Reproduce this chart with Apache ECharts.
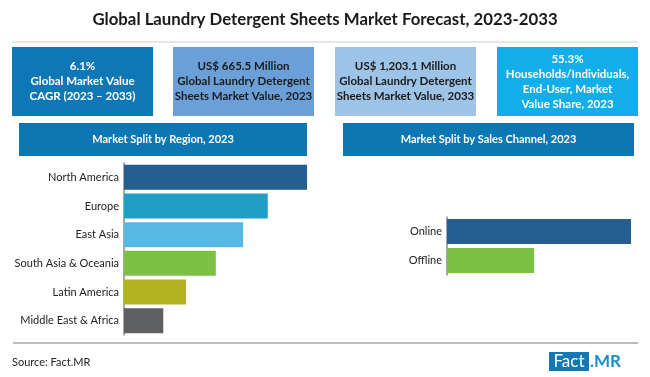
<!DOCTYPE html>
<html>
<head>
<meta charset="utf-8">
<script src="https://cdn.jsdelivr.net/npm/echarts@6/dist/echarts.min.js"></script>
<style>
  html, body { margin: 0; padding: 0; background: #fff; }
  #chart { width: 650px; height: 377px; }
</style>
</head>
<body>
<div id="chart"></div>
<script>
// region split, 2023 (share %)
const regions = ['North America', 'Europe', 'East Asia', 'South Asia & Oceania', 'Latin America', 'Middle East & Africa'];
const regionValues = [28.9, 22.7, 18.8, 14.5, 9.8, 6.2];
const regionColors = ['#255e91', '#1f9fc6', '#55b9e4', '#7bc143', '#b3b31f', '#5e5f61'];

// sales channel split, 2023
const channels = ['Online', 'Offline'];
const channelValues = [67.8, 32.1];
const channelColors = ['#255e91', '#7bc143'];

// key figure boxes
const boxTexts = [
  ['6.1%', 'Global Market Value', 'CAGR (2023 – 2033)'],
  ['US$ 665.5 Million', 'Global Laundry Detergent', 'Sheets Market Value, 2023'],
  ['US$ 1,203.1 Million', 'Global Laundry Detergent', 'Sheets Market Value, 2033'],
  ['55.3%', 'Households/Individuals,', 'End-User, Market', 'Value Share, 2023']
];
const boxColors = ['#0e77b6', '#6b9fd7', '#9dc3e6', '#13aee9'];
const boxTextColors = ['#fff', '#1b1b1b', '#1b1b1b', '#fff'];
const boxLeft = [12, 173, 335, 497];

const FONT = 'Lato';

const chart = echarts.init(document.getElementById('chart'));

const graphics = [];
// title
graphics.push({
  type: 'text', left: 'center', top: 11,
  style: { text: 'Global Laundry Detergent Sheets Market Forecast, 2023-2033', font: 'bold 16.8px ' + FONT, fill: '#1a1a1a' }
});
graphics.push({ type: 'line', shape: { x1: 12, y1: 42, x2: 638, y2: 42 }, style: { stroke: '#cfcfcf', lineWidth: 1 } });

// boxes
boxTexts.forEach((lines, i) => {
  graphics.push({
    type: 'rect', shape: { x: boxLeft[i], y: 47, width: 141, height: 69 },
    style: { fill: boxColors[i] }
  });
  graphics.push({
    type: 'text', x: boxLeft[i] + 70.5, y: 81.5,
    style: {
      text: lines.join('\n'), font: 'bold 11.5px ' + FONT, fill: boxTextColors[i],
      align: 'center', verticalAlign: 'middle', lineHeight: 15
    }
  });
});

// section headers
[[19, 288, 'Market Split by Region, 2023'], [343, 291, 'Market Split by Sales Channel, 2023']].forEach(h => {
  graphics.push({ type: 'rect', shape: { x: h[0], y: 123, width: h[1], height: 33 }, style: { fill: '#0d77b4' } });
  graphics.push({
    type: 'text', x: h[0] + h[1] / 2, y: 139.5,
    style: { text: h[2], font: 'bold 11px ' + FONT, fill: '#fff', align: 'center', verticalAlign: 'middle' }
  });
});

// footer
graphics.push({ type: 'line', shape: { x1: 13, y1: 343, x2: 638, y2: 343 }, style: { stroke: '#7a7a7a', lineWidth: 1 } });
graphics.push({
  type: 'text', x: 12, y: 362,
  style: { text: 'Source: Fact.MR', font: '11px ' + FONT, fill: '#222', verticalAlign: 'middle' }
});
graphics.push({ type: 'rect', shape: { x: 549, y: 352, width: 40, height: 19 }, style: { fill: '#1479b3' } });
graphics.push({
  type: 'text', x: 569, y: 362,
  style: { text: 'Fact', font: '17px ' + FONT, fill: '#fff', align: 'center', verticalAlign: 'middle' }
});
graphics.push({
  type: 'text', x: 590, y: 362,
  style: { text: '.MR', font: 'bold 17px ' + FONT, fill: '#1a8fcb', verticalAlign: 'middle' }
});

const catAxis = (data, idx) => ({
  type: 'category', gridIndex: idx, data: data, inverse: true,
  axisLine: { lineStyle: { color: '#8a8a8a', width: 1.5 } },
  axisTick: { show: false },
  axisLabel: { color: '#222', fontFamily: FONT, fontSize: 11, margin: 5 }
});
const valAxis = (max, idx) => ({
  type: 'value', gridIndex: idx, min: 0, max: max, show: false
});

chart.setOption({
  animation: false,
  graphic: graphics,
  grid: [
    { left: 124, top: 163, width: 190, height: 172 },
    { left: 447, top: 217, width: 190, height: 58 }
  ],
  xAxis: [valAxis(30, 0), valAxis(70, 1)],
  yAxis: [catAxis(regions, 0), catAxis(channels, 1)],
  series: [
    {
      type: 'bar', xAxisIndex: 0, yAxisIndex: 0, barWidth: 25,
      data: regionValues.map((v, i) => ({ value: v, itemStyle: { color: regionColors[i] } }))
    },
    {
      type: 'bar', xAxisIndex: 1, yAxisIndex: 1, barWidth: 25,
      data: channelValues.map((v, i) => ({ value: v, itemStyle: { color: channelColors[i] } }))
    }
  ]
});
</script>
</body>
</html>
